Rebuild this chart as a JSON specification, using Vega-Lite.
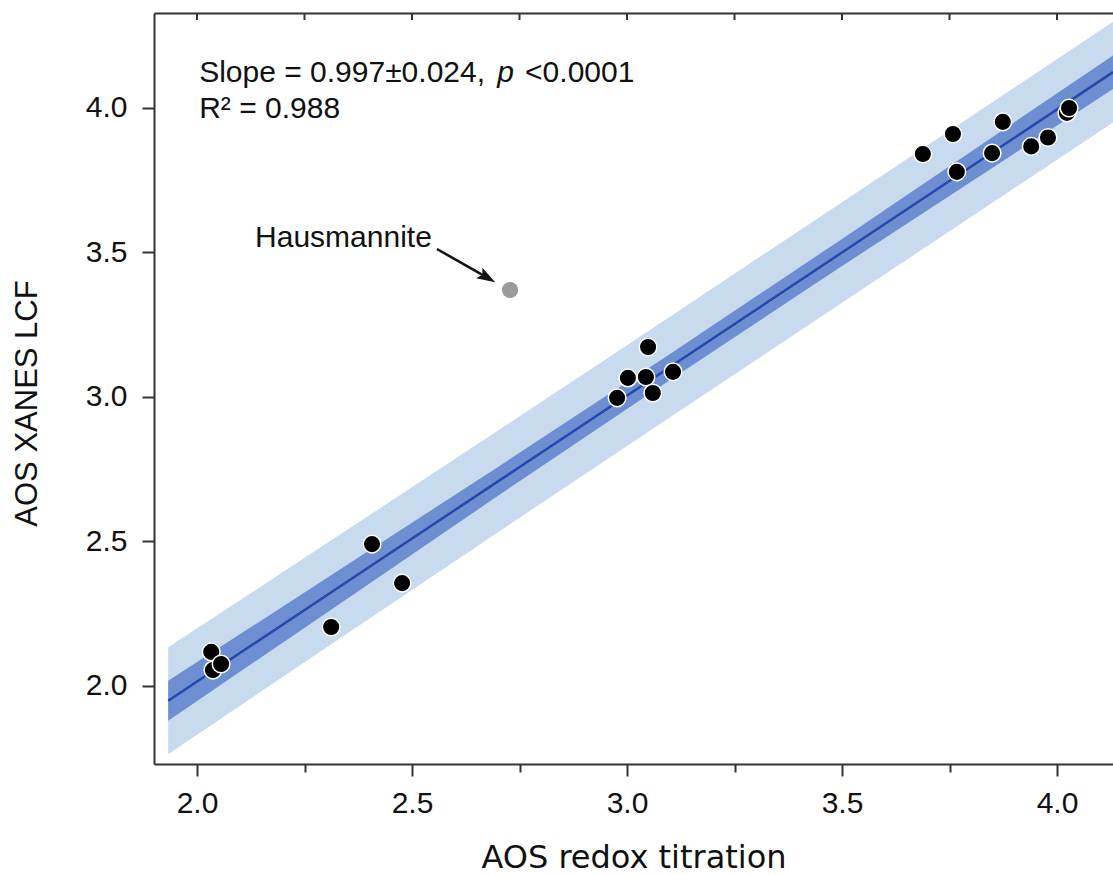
{
  "$schema": "https://vega.github.io/schema/vega-lite/v6.json",
  "width": 959,
  "height": 751,
  "autosize": {"type": "none"},
  "padding": {"left": 154, "top": 13, "right": 0, "bottom": 111},
  "background": "white",
  "config": {
    "view": {"stroke": null},
    "axis": {
      "grid": false,
      "domainColor": "#333333",
      "domainWidth": 2,
      "tickColor": "#333333",
      "tickWidth": 2,
      "labelFont": "Liberation Sans",
      "labelFontSize": 30,
      "labelColor": "#111111",
      "titleFont": "Liberation Sans",
      "titleFontWeight": "normal",
      "titleColor": "#111111"
    }
  },
  "datasets": {
    "bands": [
      {"x": 1.933, "fit": 1.949, "ci_lo": 1.880, "ci_hi": 2.018, "pi_lo": 1.764, "pi_hi": 2.134},
      {"x": 2.3, "fit": 2.312, "ci_lo": 2.252, "ci_hi": 2.372, "pi_lo": 2.132, "pi_hi": 2.492},
      {"x": 2.7, "fit": 2.708, "ci_lo": 2.658, "ci_hi": 2.758, "pi_lo": 2.532, "pi_hi": 2.884},
      {"x": 3.1, "fit": 3.104, "ci_lo": 3.059, "ci_hi": 3.149, "pi_lo": 2.930, "pi_hi": 3.278},
      {"x": 3.5, "fit": 3.500, "ci_lo": 3.453, "ci_hi": 3.547, "pi_lo": 3.326, "pi_hi": 3.674},
      {"x": 3.9, "fit": 3.896, "ci_lo": 3.842, "ci_hi": 3.950, "pi_lo": 3.722, "pi_hi": 4.070},
      {"x": 4.1302, "fit": 4.124, "ci_lo": 4.066, "ci_hi": 4.182, "pi_lo": 3.950, "pi_hi": 4.298}
    ],
    "points": [
      {"x": 2.033, "y": 2.118}, {"x": 2.037, "y": 2.055}, {"x": 2.056, "y": 2.076},
      {"x": 2.312, "y": 2.204}, {"x": 2.407, "y": 2.491}, {"x": 2.477, "y": 2.356},
      {"x": 3.049, "y": 3.173}, {"x": 3.002, "y": 3.066}, {"x": 3.044, "y": 3.069},
      {"x": 3.107, "y": 3.087}, {"x": 2.977, "y": 2.997}, {"x": 3.060, "y": 3.014},
      {"x": 3.688, "y": 3.841}, {"x": 3.758, "y": 3.910}, {"x": 3.767, "y": 3.779},
      {"x": 3.849, "y": 3.844}, {"x": 3.874, "y": 3.952}, {"x": 3.940, "y": 3.867},
      {"x": 3.979, "y": 3.898}, {"x": 4.023, "y": 3.983}, {"x": 4.028, "y": 4.000}
    ],
    "topticks": [
      {"x": 2.0, "y": 4.3287}, {"x": 2.25, "y": 4.3287}, {"x": 2.5, "y": 4.3287},
      {"x": 2.75, "y": 4.3287}, {"x": 3.0, "y": 4.3287}, {"x": 3.25, "y": 4.3287},
      {"x": 3.5, "y": 4.3287}, {"x": 3.75, "y": 4.3287}, {"x": 4.0, "y": 4.3287}
    ],
    "outlier": [{"x": 2.728, "y": 3.370, "name": "Hausmannite"}],
    "arrow": [{"x": 2.558, "y": 3.512, "x2": 2.673, "y2": 3.415}],
    "notes": [
      {"x": 2.005, "y": 4.09, "label": "Slope = 0.997±0.024,"},
      {"x": 2.763, "y": 4.09, "label": "<0.0001"},
      {"x": 2.005, "y": 3.965, "label": "R² = 0.988"},
      {"x": 2.135, "y": 3.519, "label": "Hausmannite"}
    ],
    "italic": [{"x": 2.698, "y": 4.09, "label": "p"}]
  },
  "layer": [
    {
      "data": {"name": "bands"},
      "mark": {"type": "area", "color": "#c8daee", "opacity": 1},
      "encoding": {
        "x": {
          "field": "x", "type": "quantitative",
          "scale": {"domain": [1.9, 4.1302], "nice": false, "zero": false},
          "axis": {
            "orient": "bottom",
            "values": [2, 2.25, 2.5, 2.75, 3, 3.25, 3.5, 3.75, 4],
            "labelExpr": "datum.value % 0.5 === 0 ? format(datum.value, '.1f') : ''",
            "tickSize": {"condition": {"test": "datum.value % 0.5 === 0", "value": 12}, "value": 8},
            "labelPadding": 12,
            "title": "AOS redox titration",
            "titleFont": "DejaVu Sans",
            "titleFontSize": 32,
            "titlePadding": 24
          }
        },
        "y": {
          "field": "pi_lo", "type": "quantitative",
          "scale": {"domain": [1.73, 4.3287], "nice": false, "zero": false},
          "axis": {
            "values": [2, 2.5, 3, 3.5, 4],
            "format": ".1f",
            "tickSize": 12,
            "labelPadding": 15,
            "title": "AOS XANES LCF",
            "titleFontSize": 31,
            "titlePadding": 42,
            "titleY": 390
          }
        },
        "y2": {"field": "pi_hi"}
      }
    },
    {
      "data": {"name": "bands"},
      "mark": {"type": "area", "color": "#6d8fd1", "opacity": 1},
      "encoding": {
        "x": {"field": "x", "type": "quantitative", "scale": {"domain": [1.9, 4.1302], "nice": false, "zero": false}, "axis": null},
        "y": {"field": "ci_lo", "type": "quantitative", "scale": {"domain": [1.73, 4.3287], "nice": false, "zero": false}},
        "y2": {"field": "ci_hi"}
      }
    },
    {
      "data": {"name": "bands"},
      "mark": {"type": "line", "color": "#2647aa", "strokeWidth": 2.5},
      "encoding": {
        "x": {
          "field": "x", "type": "quantitative",
          "scale": {"domain": [1.9, 4.1302], "nice": false, "zero": false},
          "axis": {
            "orient": "top",
            "labels": false,
            "ticks": false,
            "domain": true,
            "title": null
          }
        },
        "y": {"field": "fit", "type": "quantitative", "scale": {"domain": [1.73, 4.3287], "nice": false, "zero": false}}
      }
    },
    {
      "data": {"name": "topticks"},
      "mark": {"type": "tick", "orient": "vertical", "size": 14, "thickness": 2, "color": "#333333", "opacity": 1, "clip": true},
      "encoding": {
        "x": {"field": "x", "type": "quantitative", "scale": {"domain": [1.9, 4.1302], "nice": false, "zero": false}, "axis": null},
        "y": {"field": "y", "type": "quantitative", "scale": {"domain": [1.73, 4.3287], "nice": false, "zero": false}}
      }
    },
    {
      "data": {"name": "outlier"},
      "mark": {"type": "circle", "color": "#9a9a9a", "size": 260, "opacity": 1},
      "encoding": {
        "x": {"field": "x", "type": "quantitative", "scale": {"domain": [1.9, 4.1302], "nice": false, "zero": false}, "axis": null},
        "y": {"field": "y", "type": "quantitative", "scale": {"domain": [1.73, 4.3287], "nice": false, "zero": false}}
      }
    },
    {
      "data": {"name": "points"},
      "mark": {"type": "circle", "fill": "#000000", "stroke": "#ffffff", "strokeWidth": 1.5, "size": 310, "opacity": 1},
      "encoding": {
        "x": {"field": "x", "type": "quantitative", "scale": {"domain": [1.9, 4.1302], "nice": false, "zero": false}, "axis": null},
        "y": {"field": "y", "type": "quantitative", "scale": {"domain": [1.73, 4.3287], "nice": false, "zero": false}}
      }
    },
    {
      "data": {"name": "arrow"},
      "mark": {"type": "rule", "color": "#111111", "strokeWidth": 2.5},
      "encoding": {
        "x": {"field": "x", "type": "quantitative", "scale": {"domain": [1.9, 4.1302], "nice": false, "zero": false}, "axis": null},
        "y": {"field": "y", "type": "quantitative", "scale": {"domain": [1.73, 4.3287], "nice": false, "zero": false}},
        "x2": {"field": "x2"},
        "y2": {"field": "y2"}
      }
    },
    {
      "data": {"name": "arrow"},
      "mark": {"type": "point", "shape": "M0,-1L0.6,0.8L0,0.45L-0.6,0.8Z", "angle": 120, "size": 420, "filled": true, "color": "#111111", "opacity": 1},
      "encoding": {
        "x": {"field": "x2", "type": "quantitative", "scale": {"domain": [1.9, 4.1302], "nice": false, "zero": false}, "axis": null},
        "y": {"field": "y2", "type": "quantitative", "scale": {"domain": [1.73, 4.3287], "nice": false, "zero": false}}
      }
    },
    {
      "data": {"name": "notes"},
      "mark": {"type": "text", "align": "left", "baseline": "alphabetic", "font": "Liberation Sans", "fontSize": 30, "color": "#111111"},
      "encoding": {
        "x": {"field": "x", "type": "quantitative", "scale": {"domain": [1.9, 4.1302], "nice": false, "zero": false}, "axis": null},
        "y": {"field": "y", "type": "quantitative", "scale": {"domain": [1.73, 4.3287], "nice": false, "zero": false}},
        "text": {"field": "label"}
      }
    },
    {
      "data": {"name": "italic"},
      "mark": {"type": "text", "align": "left", "baseline": "alphabetic", "font": "Liberation Sans", "fontSize": 30, "fontStyle": "italic", "color": "#111111"},
      "encoding": {
        "x": {"field": "x", "type": "quantitative", "scale": {"domain": [1.9, 4.1302], "nice": false, "zero": false}, "axis": null},
        "y": {"field": "y", "type": "quantitative", "scale": {"domain": [1.73, 4.3287], "nice": false, "zero": false}},
        "text": {"field": "label"}
      }
    }
  ],
  "resolve": {"axis": {"x": "independent"}}
}
